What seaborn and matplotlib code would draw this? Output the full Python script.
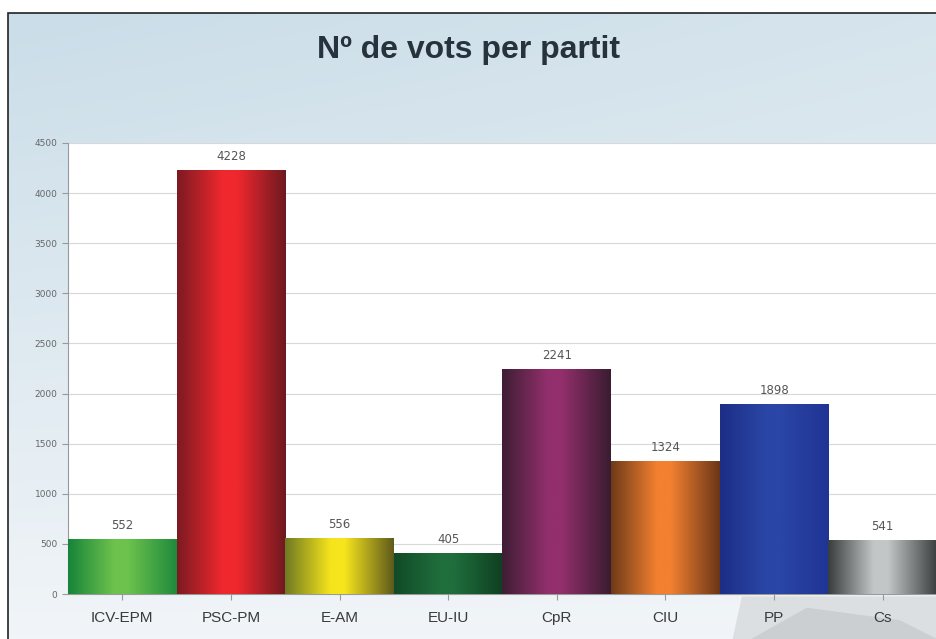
"""Bar chart: number of votes per party."""

import matplotlib.pyplot as plt
import numpy as np
import pandas as pd
import seaborn as sns
from matplotlib.colors import LinearSegmentedColormap, to_rgb
from matplotlib.patches import Polygon, Rectangle

parties = ["ICV-EPM", "PSC-PM", "E-AM", "EU-IU", "CpR", "CIU", "PP", "Cs"]
votes = [552, 4228, 556, 405, 2241, 1324, 1898, 541]
y_ticks = [0, 500, 1000, 1500, 2000, 2500, 3000, 3500, 4000, 4500]

# (left edge, highlight, right edge) for the cylinder-like shading
BAR_SHADES = {
    "ICV-EPM": ("#17843a", "#6cc24c", "#1f8a3c"),
    "PSC-PM": ("#7c1a22", "#f0282e", "#6e1820"),
    "E-AM": ("#6f7a22", "#f6e41c", "#5e5a1c"),
    "EU-IU": ("#124a28", "#1f6e3c", "#0f3f22"),
    "CpR": ("#3e1e34", "#922f6c", "#3a1c30"),
    "CIU": ("#6e3a18", "#f28030", "#6a3616"),
    "PP": ("#1c2e86", "#2a46a6", "#203494"),
    "Cs": ("#3a3d3d", "#c2c6c6", "#3c3f3f"),
}
TEXT_GREY = "#555555"
TITLE_COLOR = "#26323c"

df = pd.DataFrame({"party": parties, "votes": votes})

fig = plt.figure(figsize=(9.37, 6.39), dpi=100, facecolor="white")

# background panel with soft blue gradient
bg = fig.add_axes([8 / 937, 0, 1 - 8 / 937, (639 - 13) / 639])
bg.set_axis_off()
yy, xx = np.mgrid[0:1:200j, 0:1:300j]
t = np.clip(0.1 + 0.8 * yy + 0.25 * xx * (1 - yy), 0, 1)
top = np.array(to_rgb("#c5dae6"))
low = np.array(to_rgb("#f6f8fa"))
bg_img = top[None, None, :] * (1 - t[..., None]) + low[None, None, :] * t[..., None]
bg.imshow(bg_img, aspect="auto", extent=(0, 1, 0, 1), origin="upper")
# decorative grey swoosh behind the last labels
bg.add_patch(Polygon([(0.78, 0.0), (0.79, 0.068), (1.0, 0.068), (1.0, 0.0)],
                     closed=True, facecolor="#dcdfe1", edgecolor="none"))
bg.add_patch(Polygon([(0.80, 0.0), (0.86, 0.05), (0.96, 0.03), (1.0, 0.0)],
                     closed=True, facecolor="#cbcfd2", edgecolor="none"))
bg.set_xlim(0, 1)
bg.set_ylim(0, 1)

# outer frame line (left and top)
fig.add_artist(Rectangle((8 / 937, -0.1), 1.2, 1.1 - 13 / 639,
                         transform=fig.transFigure, fill=False,
                         edgecolor="#222222", linewidth=1.2))

ax = fig.add_axes([68 / 937, (639 - 594) / 639, 1 - 68 / 937, (594 - 143) / 639])
ax.set_facecolor("white")

sns.barplot(data=df, x="party", y="votes", hue="party", order=parties,
            palette=[BAR_SHADES[p][1] for p in parties], width=1.0,
            legend=False, ax=ax, zorder=2)

for patch, party in zip(ax.patches, parties):
    x0, y0 = patch.get_x(), patch.get_y()
    w, h = patch.get_width(), patch.get_height()
    left, mid, right = BAR_SHADES[party]
    cmap = LinearSegmentedColormap.from_list(
        party, [(0.0, left), (0.42, mid), (0.55, mid), (1.0, right)])
    grad = np.linspace(0, 1, 256)[None, :]
    im = ax.imshow(grad, cmap=cmap, aspect="auto",
                   extent=(x0, x0 + w, y0, y0 + h), zorder=3)
    im.set_clip_path(patch)

for i, v in enumerate(votes):
    ax.text(i, v + 70, str(v), ha="center", va="bottom",
            fontsize=8.5, color=TEXT_GREY, zorder=4)

ax.set_xlim(-0.5, len(parties) - 0.5)
ax.set_ylim(0, 4500)
ax.set_yticks(y_ticks)
ax.yaxis.grid(True, color="#d8d8d8", linewidth=0.8, zorder=0)
ax.set_axisbelow(True)
ax.tick_params(axis="y", labelsize=6.5, labelcolor="#666666", color="#999999",
               length=4, direction="out")
ax.tick_params(axis="x", labelsize=11, labelcolor="#3a3a3a", color="#999999",
               length=4, pad=8)
for label in ax.get_xticklabels():
    label.set_fontfamily("Liberation Sans")
ax.set_xlabel("")
ax.set_ylabel("")
for side in ["top", "right"]:
    ax.spines[side].set_visible(False)
for side in ["left", "bottom"]:
    ax.spines[side].set_color("#999999")
    ax.spines[side].set_linewidth(0.8)

fig.text(0.5, 1 - 50 / 639, "Nº de vots per partit", ha="center", va="center",
         fontsize=23, fontweight="bold", color=TITLE_COLOR,
         family="Liberation Sans")

fig.savefig("out.png", dpi=100)
